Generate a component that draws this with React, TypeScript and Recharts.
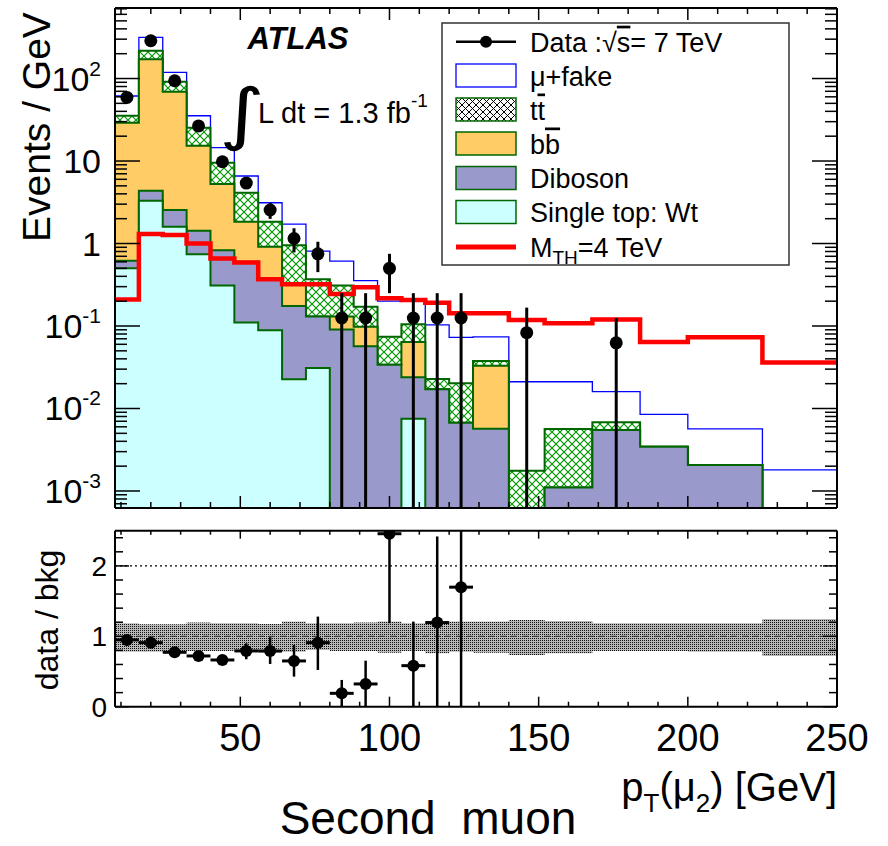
import React from 'react';
import { ComposedChart, Area, Line, Scatter, XAxis, YAxis, ErrorBar, ReferenceLine } from 'recharts';

const FONT = '"Liberation Sans", Arial, Helvetica, sans-serif';

// ---------- binning (GeV) ----------
const binEdges = [8, 16, 24, 32, 40, 48, 56, 64, 72, 80, 88, 96, 104, 112, 120, 128, 140, 152, 168, 184, 200, 225, 250];

// ---------- stacked background tops (events / GeV, cumulative) ----------
const stackMuFake = [61.4, 316, 119, 35.4, 14.5, 6.58, 3.12, 1.72, 0.81, 0.61, 0.354, 0.2, 0.2, 0.103, 0.073, 0.074, 0.0211, 0.0211, 0.016, 0.0085, 0.00565, 0.0018];
const stackTtbar = [35.4, 217, 91.4, 25.3, 9.5, 4.13, 1.84, 0.95, 0.37, 0.31, 0.171, 0.074, 0.105, 0.0228, 0.0202, 0.0377, 0.00176, 0.00565, 0.0068, 0.00344, 0.00207, 0];
const stackBbbar = [29.1, 171, 69.2, 15.3, 5.26, 1.84, 0.915, 0.33, 0.13, 0.13, 0.098, 0.034, 0.064, 0.0171, 0.0067, 0.033, 0, 0.0011, 0.0055, 0.00344, 0.00207, 0];
const stackDiboson = [0.62, 4.37, 2.55, 1.43, 0.83, 0.6, 0.36, 0.175, 0.13, 0.091, 0.057, 0.034, 0.024, 0.0171, 0.0067, 0.0057, 0, 0.0011, 0.0055, 0.00344, 0.00207, 0];
const stackSingleTop = [0.5, 3.3, 1.6, 0.74, 0.31, 0.11, 0.089, 0.0226, 0.031, 0, 0, 0, 0.0075, 0, 0, 0, 0, 0, 0, 0, 0, 0];
const signalMTH4 = [0.21, 1.3, 1.27, 1.0, 0.66, 0.59, 0.37, 0.32, 0.32, 0.244, 0.295, 0.217, 0.207, 0.192, 0.143, 0.143, 0.118, 0.108, 0.12, 0.064, 0.073, 0.036];

// ---------- data ----------
const dataCenters = [12, 20, 28, 36, 44, 52, 60, 68, 76, 84, 92, 100, 108, 116, 124, 146, 176];
const dataValues = [59, 287, 94, 26.6, 9.8, 5.4, 2.55, 1.15, 0.75, 0.125, 0.125, 0.5, 0.125, 0.125, 0.125, 0.083, 0.0625];
const dataLow = [57.5, 281, 90.6, 24.8, 8.7, 4.6, 1.99, 0.78, 0.45, 0, 0, 0.25, 0, 0, 0, 0, 0];
const dataHigh = [60.5, 293, 97.4, 28.4, 10.9, 6.2, 3.1, 1.53, 1.05, 0.25, 0.25, 0.75, 0.25, 0.25, 0.25, 0.167, 0.125];

// ---------- ratio panel ----------
const ratioCenters = [12, 20, 28, 36, 44, 52, 60, 68, 76, 84, 92, 100, 108, 116, 124];
const ratioValues = [0.949, 0.91, 0.773, 0.721, 0.664, 0.792, 0.79, 0.65, 0.91, 0.19, 0.323, 2.457, 0.583, 1.195, 1.698];
const ratioLow = [0.91, 0.88, 0.745, 0.69, 0.63, 0.674, 0.607, 0.427, 0.522, 0, 0, 1.186, 0, 0, 0];
const ratioHigh = [0.99, 0.94, 0.8, 0.75, 0.7, 0.9, 0.987, 0.878, 1.28, 0.38, 0.654, 3.7, 1.209, 2.418, 3.4];
const bandLow = [0.782, 0.782, 0.792, 0.792, 0.792, 0.807, 0.792, 0.782, 0.807, 0.792, 0.792, 0.768, 0.792, 0.759, 0.782, 0.768, 0.735, 0.759, 0.792, 0.792, 0.782, 0.721];
const bandHigh = [1.186, 1.172, 1.172, 1.195, 1.186, 1.186, 1.176, 1.209, 1.186, 1.186, 1.195, 1.209, 1.186, 1.219, 1.209, 1.209, 1.233, 1.219, 1.186, 1.186, 1.186, 1.247];

// ---------- axes ----------
const xTicks = [10, 20, 30, 40, 50, 60, 70, 80, 90, 100, 110, 120, 130, 140, 150, 160, 170, 180, 190, 200, 210, 220, 230, 240, 250];
const xMajorTicks = [50, 100, 150, 200, 250];
const logMajorTicks = [0.001, 0.01, 0.1, 1, 10, 100];
const logMajorBase = ['10', '10', '10', '1', '10', '10'];
const logMajorExp = ['-3', '-2', '-1', '', '', '2'];
const ratioYTicks = [0, 0.2, 0.4, 0.6, 0.8, 1, 1.2, 1.4, 1.6, 1.8, 2, 2.2, 2.4];
const ratioYMajor = [0, 1, 2];

const Y_MIN = 6.22e-4;
const Y_MAX = 716;
const R_MIN = 0;
const R_MAX = 2.5;
const FLOOR = 1e-7;

const logTicks: number[] = [];
[0.0001, 0.001, 0.01, 0.1, 1, 10, 100].forEach((dec) => {
  [1, 2, 3, 4, 5, 6, 7, 8, 9].forEach((m) => {
    const v = m * dec;
    if (v >= Y_MIN && v <= Y_MAX) logTicks.push(v);
  });
});

const pos = (v: number) => (v > 0 ? v : FLOOR);
const clampLog = (v: number) => Math.min(Math.max(v, Y_MIN), Y_MAX);
const clampRatio = (v: number) => Math.min(Math.max(v, R_MIN), R_MAX);

const histRows = binEdges.map((e, i) => {
  const j = Math.min(i, binEdges.length - 2);
  return {
    x: e,
    muFake: pos(stackMuFake[j]),
    ttbar: pos(stackTtbar[j]),
    bbbar: pos(stackBbbar[j]),
    diboson: pos(stackDiboson[j]),
    singleTop: pos(stackSingleTop[j]),
    signal: signalMTH4[j],
  };
});

const dataPoints = dataCenters.map((c, i) => ({
  x: c,
  y: dataValues[i],
  err: [dataValues[i] - clampLog(dataLow[i]), clampLog(dataHigh[i]) - dataValues[i]],
}));

const bandRows = binEdges.map((e, i) => {
  const j = Math.min(i, binEdges.length - 2);
  return { x: e, band: [bandLow[j], bandHigh[j]] };
});

const ratioPoints = ratioCenters.map((c, i) => ({
  x: c,
  y: ratioValues[i],
  err: [ratioValues[i] - clampRatio(ratioLow[i]), clampRatio(ratioHigh[i]) - ratioValues[i]],
  xerr: 4,
}));

// ---------- tick renderers ----------
const makeXTick = (side: 'bottom' | 'top', majorLen: number, minorLen: number, label: boolean) =>
  (p: any) => {
    const { x, y, payload } = p;
    const v = payload.value;
    const major = xMajorTicks.includes(v);
    const len = major ? majorLen : minorLen;
    const dir = side === 'bottom' ? -1 : 1;
    return (
      <g>
        <line x1={x} x2={x} y1={y} y2={y + dir * len} stroke="#000" strokeWidth={1.5} />
        {label && major ? (
          <text x={x} y={y + 44} textAnchor="middle" fontSize={38} fontFamily={FONT} fill="#000">
            {v}
          </text>
        ) : null}
      </g>
    );
  };

const makeLogYTick = (side: 'left' | 'right') => (p: any) => {
  const { x, y, payload } = p;
  const v = payload.value;
  const idx = logMajorTicks.indexOf(v);
  const major = idx >= 0;
  const len = major ? 25 : 12;
  const dir = side === 'left' ? 1 : -1;
  return (
    <g>
      <line x1={x} x2={x + dir * len} y1={y} y2={y} stroke="#000" strokeWidth={1.5} />
      {side === 'left' && major ? (
        <text x={x - 14} y={y + 12} textAnchor="end" fontSize={34} fontFamily={FONT} fill="#000">
          {logMajorBase[idx]}
          {logMajorExp[idx] ? (
            <tspan fontSize={21} dy={-15}>
              {logMajorExp[idx]}
            </tspan>
          ) : null}
        </text>
      ) : null}
    </g>
  );
};

const makeRatioYTick = (side: 'left' | 'right') => (p: any) => {
  const { x, y, payload } = p;
  const v = payload.value;
  const major = ratioYMajor.includes(v);
  const len = major ? 14 : 8;
  const dir = side === 'left' ? 1 : -1;
  return (
    <g>
      <line x1={x} x2={x + dir * len} y1={y} y2={y} stroke="#000" strokeWidth={1.5} />
      {side === 'left' && major ? (
        <text x={x - 8} y={y + 10} textAnchor="end" fontSize={28} fontFamily={FONT} fill="#000">
          {v}
        </text>
      ) : null}
    </g>
  );
};

const dataDot = (r: number) => (p: any) =>
  p.cx == null || p.cy == null ? <g /> : <circle cx={p.cx} cy={p.cy} r={r} fill="#000" />;

const axisLine = { stroke: '#000', strokeWidth: 2 };
const GREEN = '#006600';

const legendRowsY = [41.7, 75.5, 109.5, 143.5, 178, 212, 247];

const Overlay = () => (
  <svg
    width={888}
    height={846}
    style={{ position: 'absolute', left: 0, top: 0, pointerEvents: 'none' }}
    fontFamily={FONT}
  >
    <defs>
      <pattern id="ttHatchLegend" width="7" height="7" patternUnits="userSpaceOnUse">
        <rect width="7" height="7" fill="#fff" />
        <path d="M0,0 L7,7 M7,0 L0,7" stroke="#000" strokeWidth="1" />
      </pattern>
    </defs>
    {/* axis titles */}
    <text transform="translate(50,127) rotate(-90)" textAnchor="middle" fontSize={39} fill="#000">
      Events / GeV
    </text>
    <text transform="translate(58,620) rotate(-90)" textAnchor="middle" fontSize={32} fill="#000">
      data / bkg
    </text>
    <text x={837} y={801} textAnchor="end" fontSize={40} fill="#000">
      p<tspan fontSize={26} dy={11}>T</tspan>
      <tspan dy={-11}>(μ</tspan>
      <tspan fontSize={26} dy={11}>2</tspan>
      <tspan dy={-11}>) [GeV]</tspan>
    </text>
    <text x={428} y={834} textAnchor="middle" fontSize={46} fill="#000" xmlSpace="preserve" style={{ whiteSpace: 'pre' }}>
      {'Second  muon'}
    </text>
    {/* ATLAS label */}
    <text x={298} y={49} textAnchor="middle" fontSize={31} fontWeight="bold" fontStyle="italic" fill="#000">
      ATLAS
    </text>
    <text transform="translate(219,137) scale(1.3,1)" fontSize={68} fill="#000" fontFamily='"DejaVu Sans", sans-serif'>
      ∫
    </text>
    <text x={258} y={123} fontSize={29} fill="#000">
      L dt = 1.3 fb
      <tspan fontSize={19} dy={-16}>
        -1
      </tspan>
    </text>
    {/* legend */}
    <rect x={442} y={23} width={347} height={242} fill="#fff" stroke="#333" strokeWidth={1.5} />
    <line x1={456} x2={516} y1={legendRowsY[0]} y2={legendRowsY[0]} stroke="#000" strokeWidth={2.5} />
    <circle cx={486} cy={legendRowsY[0]} r={6} fill="#000" />
    <rect x={456} y={legendRowsY[1] - 11.5} width={60} height={23} fill="#fff" stroke="#0000ff" strokeWidth={1.3} />
    <rect x={456} y={legendRowsY[2] - 11.5} width={60} height={23} fill="url(#ttHatchLegend)" stroke={GREEN} strokeWidth={1.5} />
    <rect x={456} y={legendRowsY[3] - 11.5} width={60} height={23} fill="#ffcc66" stroke={GREEN} strokeWidth={1.5} />
    <rect x={456} y={legendRowsY[4] - 11.5} width={60} height={23} fill="#9999cc" stroke={GREEN} strokeWidth={1.5} />
    <rect x={456} y={legendRowsY[5] - 11.5} width={60} height={23} fill="#ccffff" stroke={GREEN} strokeWidth={1.5} />
    <line x1={456} x2={516} y1={legendRowsY[6]} y2={legendRowsY[6]} stroke="#ff0000" strokeWidth={5} />
    <g fontSize={27} fill="#000">
      <text x={530} y={legendRowsY[0] + 10}>
        Data :√<tspan style={{ textDecoration: 'overline' }}>s</tspan>= 7 TeV
      </text>
      <text x={530} y={legendRowsY[1] + 10}>μ+fake</text>
      <text x={530} y={legendRowsY[2] + 10}>
        t<tspan style={{ textDecoration: 'overline' }}>t</tspan>
      </text>
      <text x={530} y={legendRowsY[3] + 10}>
        b<tspan style={{ textDecoration: 'overline' }}>b</tspan>
      </text>
      <text x={530} y={legendRowsY[4] + 10}>Diboson</text>
      <text x={530} y={legendRowsY[5] + 10}>Single top: Wt</text>
      <text x={530} y={legendRowsY[6] + 10}>
        M<tspan fontSize={19} dy={7}>TH</tspan>
        <tspan dy={-7}>=4 TeV</tspan>
      </text>
    </g>
  </svg>
);

const commonX = {
  dataKey: 'x',
  type: 'number' as const,
  domain: [8, 250] as [number, number],
  allowDataOverflow: true,
  ticks: xTicks,
  interval: 0 as const,
  height: 1,
  tickSize: 0,
  tickMargin: 0,
  tickLine: false,
  axisLine: axisLine,
};

export default function App() {
  return (
    <div style={{ position: 'absolute', left: 0, top: 0, width: 888, height: 846, background: '#fff', fontFamily: FONT }}>
      <div style={{ position: 'absolute', left: 0, top: 0 }}>
        <ComposedChart width={888} height={520} data={histRows} margin={{ top: 7, right: 50, bottom: 11, left: 114 }}>
          <defs>
            <pattern id="ttHatch" width="8" height="8" patternUnits="userSpaceOnUse">
              <rect width="8" height="8" fill="#fff" />
              <path d="M0,0 L8,8 M8,0 L0,8" stroke="#009900" strokeWidth="1.2" />
            </pattern>
          </defs>
          <XAxis {...commonX} tick={makeXTick('bottom', 12, 6, false)} />
          <XAxis {...commonX} xAxisId="t" orientation="top" tick={makeXTick('top', 12, 6, false)} />
          <YAxis
            type="number"
            scale="log"
            domain={[Y_MIN, Y_MAX]}
            allowDataOverflow
            ticks={logTicks}
            interval={0}
            width={1}
            tickSize={0}
            tickMargin={0}
            tickLine={false}
            axisLine={axisLine}
            tick={makeLogYTick('left')}
          />
          <YAxis
            yAxisId="r"
            orientation="right"
            type="number"
            scale="log"
            domain={[Y_MIN, Y_MAX]}
            allowDataOverflow
            ticks={logTicks}
            interval={0}
            width={1}
            tickSize={0}
            tickMargin={0}
            tickLine={false}
            axisLine={axisLine}
            tick={makeLogYTick('right')}
          />
          <Area type="stepAfter" dataKey="muFake" baseValue={Y_MIN} fill="#ffffff" fillOpacity={1} stroke="#0000ff" strokeWidth={1.3} isAnimationActive={false} dot={false} activeDot={false} />
          <Area type="stepAfter" dataKey="ttbar" baseValue={Y_MIN} fill="url(#ttHatch)" fillOpacity={1} stroke={GREEN} strokeWidth={2} isAnimationActive={false} dot={false} activeDot={false} />
          <Area type="stepAfter" dataKey="bbbar" baseValue={Y_MIN} fill="#ffcc66" fillOpacity={1} stroke={GREEN} strokeWidth={2} isAnimationActive={false} dot={false} activeDot={false} />
          <Area type="stepAfter" dataKey="diboson" baseValue={Y_MIN} fill="#9999cc" fillOpacity={1} stroke={GREEN} strokeWidth={2} isAnimationActive={false} dot={false} activeDot={false} />
          <Area type="stepAfter" dataKey="singleTop" baseValue={Y_MIN} fill="#ccffff" fillOpacity={1} stroke={GREEN} strokeWidth={2} isAnimationActive={false} dot={false} activeDot={false} />
          <Line type="stepAfter" dataKey="signal" stroke="#ff0000" strokeWidth={4.5} dot={false} activeDot={false} isAnimationActive={false} />
          <Scatter data={dataPoints} dataKey="y" shape={dataDot(6.5)} isAnimationActive={false}>
            <ErrorBar dataKey="err" direction="y" width={0} stroke="#000" strokeWidth={3} />
          </Scatter>
        </ComposedChart>
      </div>
      <div style={{ position: 'absolute', left: 0, top: 520 }}>
        <ComposedChart width={888} height={326} data={bandRows} margin={{ top: 9.7, right: 50, bottom: 138.3, left: 114 }}>
          <defs>
            <pattern id="bandFill" width="2" height="2" patternUnits="userSpaceOnUse">
              <rect width="2" height="2" fill="#b8b8b8" />
              <rect width="1" height="1" fill="#111" />
            </pattern>
          </defs>
          <XAxis {...commonX} tick={makeXTick('bottom', 10, 5, true)} />
          <XAxis {...commonX} xAxisId="t" orientation="top" tick={makeXTick('top', 8, 4, false)} />
          <YAxis
            type="number"
            domain={[R_MIN, R_MAX]}
            allowDataOverflow
            ticks={ratioYTicks}
            interval={0}
            width={1}
            tickSize={0}
            tickMargin={0}
            tickLine={false}
            axisLine={axisLine}
            tick={makeRatioYTick('left')}
          />
          <YAxis
            yAxisId="r"
            orientation="right"
            type="number"
            domain={[R_MIN, R_MAX]}
            allowDataOverflow
            ticks={ratioYTicks}
            interval={0}
            width={1}
            tickSize={0}
            tickMargin={0}
            tickLine={false}
            axisLine={axisLine}
            tick={makeRatioYTick('right')}
          />
          <Area type="stepAfter" dataKey="band" fill="url(#bandFill)" fillOpacity={1} stroke="none" isAnimationActive={false} dot={false} activeDot={false} />
          <ReferenceLine y={2} stroke="#000" strokeDasharray="2 3" strokeWidth={1.2} />
          <ReferenceLine y={1} stroke="#333" strokeDasharray="6 5" strokeWidth={1} />
          <Scatter data={ratioPoints} dataKey="y" shape={dataDot(6)} isAnimationActive={false}>
            <ErrorBar dataKey="err" direction="y" width={0} stroke="#000" strokeWidth={2.5} />
            <ErrorBar dataKey="xerr" direction="x" width={0} stroke="#000" strokeWidth={3} />
          </Scatter>
        </ComposedChart>
      </div>
      <Overlay />
    </div>
  );
}
